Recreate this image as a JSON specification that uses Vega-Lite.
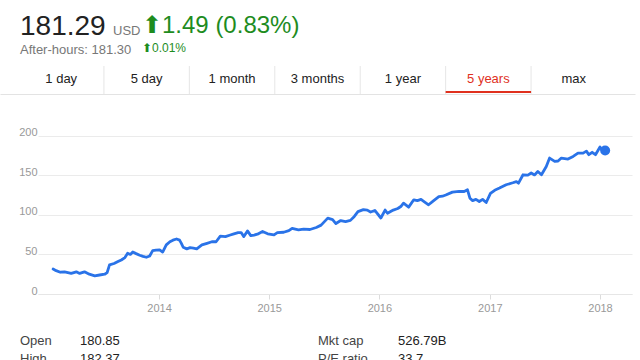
{
  "$schema": "https://vega.github.io/schema/vega-lite/v6.json",
  "padding": {"left": 18, "top": 12, "right": 0, "bottom": 0},
  "background": "white",
  "bounds": "flush",
  "spacing": 10,
  "config": {"font": "Liberation Sans", "view": {"stroke": null}},
  "vconcat": [
    {
      "width": 594,
      "height": 28,
      "title": {"text": "181.29", "subtitle": "After-hours: 181.30", "anchor": "start", "frame": "group", "dx": -18, "dy": 13, "offset": 0, "baseline": "alphabetic",
                "fontSize": 28, "fontWeight": "normal", "color": "#222", "subtitleFontSize": 13, "subtitleColor": "#777", "subtitlePadding": -9},
      "data": {"values": [{"tab": "1 day"}, {"tab": "5 day"}, {"tab": "1 month"}, {"tab": "3 months"}, {"tab": "1 year"}, {"tab": "5 years"}, {"tab": "max"}]},
      "encoding": {
        "x": {"field": "tab", "type": "nominal", "sort": null,
              "scale": {"range": [-38, 597], "paddingInner": 0, "paddingOuter": 0.2165},
              "axis": {"title": null, "labels": false, "ticks": false, "domain": true, "domainColor": "#e3e3e3"}}
      },
      "layer": [
        {
          "mark": {"type": "text", "fontSize": 13, "baseline": "middle", "dy": -1},
          "encoding": {
            "text": {"field": "tab"},
            "color": {"condition": {"test": "datum.tab === '5 years'", "value": "#e0311e"}, "value": "#222"}
          }
        },
        {
          "transform": [{"filter": "datum.tab !== '1 day'"}],
          "mark": {"type": "rule", "color": "#e6e6e6"},
          "encoding": {
            "x": {"field": "tab", "type": "nominal", "sort": null, "bandPosition": 0,
                  "axis": {"title": null, "labels": false, "ticks": false, "domain": true, "domainColor": "#e3e3e3"}}
          }
        },
        {
          "transform": [{"filter": "datum.tab === '5 years'"}],
          "mark": {"type": "rect", "color": "#e0311e"},
          "encoding": {
            "y": {"datum": 1, "type": "quantitative", "scale": {"domain": [0, 28]}, "axis": null},
            "y2": {"datum": 3}
          }
        }
      ]
    },
    {
      "width": 594,
      "height": 190,
      "title": {"text": "\u00a0\u00a0\u2009⬆1.49 (0.83%)", "subtitle": "⬆0.01%", "anchor": "start", "frame": "group", "dx": 104, "dy": -31, "offset": 0, "baseline": "alphabetic",
                "fontSize": 24, "fontWeight": "normal", "color": "#1e8c1e", "subtitleFontSize": 12, "subtitleColor": "#1e8c1e", "subtitlePadding": -5},
      "data": {"values": [
        {"date": "2013-01-15", "value": 31.5},
        {"date": "2013-01-25", "value": 29.5},
        {"date": "2013-02-08", "value": 27.5},
        {"date": "2013-02-22", "value": 28},
        {"date": "2013-03-16", "value": 26},
        {"date": "2013-04-02", "value": 28},
        {"date": "2013-04-13", "value": 26},
        {"date": "2013-04-29", "value": 28},
        {"date": "2013-05-15", "value": 25},
        {"date": "2013-06-02", "value": 23},
        {"date": "2013-06-18", "value": 24},
        {"date": "2013-07-05", "value": 25},
        {"date": "2013-07-13", "value": 27},
        {"date": "2013-07-21", "value": 36.7},
        {"date": "2013-08-05", "value": 38.5},
        {"date": "2013-08-18", "value": 41},
        {"date": "2013-08-29", "value": 43},
        {"date": "2013-09-10", "value": 46},
        {"date": "2013-09-19", "value": 51.5},
        {"date": "2013-09-28", "value": 50},
        {"date": "2013-10-06", "value": 53},
        {"date": "2013-10-17", "value": 51},
        {"date": "2013-10-29", "value": 49},
        {"date": "2013-11-09", "value": 47.5},
        {"date": "2013-11-20", "value": 46.4},
        {"date": "2013-12-01", "value": 48},
        {"date": "2013-12-11", "value": 54.8},
        {"date": "2013-12-22", "value": 55.5},
        {"date": "2014-01-03", "value": 55.7},
        {"date": "2014-01-13", "value": 53},
        {"date": "2014-01-25", "value": 62},
        {"date": "2014-02-06", "value": 66},
        {"date": "2014-02-16", "value": 68},
        {"date": "2014-02-28", "value": 69.5},
        {"date": "2014-03-10", "value": 68},
        {"date": "2014-03-16", "value": 64},
        {"date": "2014-03-22", "value": 59},
        {"date": "2014-04-03", "value": 57},
        {"date": "2014-04-14", "value": 58.5},
        {"date": "2014-04-25", "value": 58},
        {"date": "2014-05-06", "value": 57},
        {"date": "2014-05-23", "value": 62},
        {"date": "2014-06-09", "value": 64},
        {"date": "2014-06-25", "value": 66},
        {"date": "2014-07-09", "value": 66},
        {"date": "2014-07-23", "value": 73},
        {"date": "2014-08-09", "value": 72.5},
        {"date": "2014-08-25", "value": 74.5},
        {"date": "2014-09-06", "value": 76},
        {"date": "2014-09-20", "value": 77.5},
        {"date": "2014-09-30", "value": 77.6},
        {"date": "2014-10-09", "value": 72.5},
        {"date": "2014-10-21", "value": 79.7},
        {"date": "2014-11-01", "value": 73.8},
        {"date": "2014-11-12", "value": 74.5},
        {"date": "2014-11-23", "value": 75.6},
        {"date": "2014-12-10", "value": 79},
        {"date": "2014-12-27", "value": 76},
        {"date": "2015-01-17", "value": 74.7},
        {"date": "2015-01-28", "value": 77.6},
        {"date": "2015-02-18", "value": 78},
        {"date": "2015-03-07", "value": 80},
        {"date": "2015-03-18", "value": 83},
        {"date": "2015-04-08", "value": 81},
        {"date": "2015-04-25", "value": 82},
        {"date": "2015-05-16", "value": 81.5},
        {"date": "2015-06-06", "value": 84},
        {"date": "2015-06-22", "value": 87},
        {"date": "2015-07-14", "value": 95.8},
        {"date": "2015-07-30", "value": 94},
        {"date": "2015-08-10", "value": 89},
        {"date": "2015-08-26", "value": 92.8},
        {"date": "2015-09-11", "value": 91.5},
        {"date": "2015-09-27", "value": 93},
        {"date": "2015-10-10", "value": 98},
        {"date": "2015-10-22", "value": 104},
        {"date": "2015-11-09", "value": 106.5},
        {"date": "2015-11-22", "value": 106},
        {"date": "2015-12-03", "value": 103.5},
        {"date": "2015-12-17", "value": 105.5},
        {"date": "2016-01-06", "value": 96},
        {"date": "2016-01-20", "value": 106},
        {"date": "2016-01-28", "value": 102},
        {"date": "2016-02-16", "value": 106},
        {"date": "2016-03-02", "value": 108},
        {"date": "2016-03-12", "value": 110.5},
        {"date": "2016-03-21", "value": 114.8},
        {"date": "2016-04-07", "value": 109.7},
        {"date": "2016-04-24", "value": 119},
        {"date": "2016-05-06", "value": 118},
        {"date": "2016-05-18", "value": 119.5},
        {"date": "2016-05-28", "value": 116.8},
        {"date": "2016-06-12", "value": 112.7},
        {"date": "2016-06-29", "value": 118},
        {"date": "2016-07-16", "value": 123},
        {"date": "2016-07-28", "value": 123.5},
        {"date": "2016-08-08", "value": 125},
        {"date": "2016-08-30", "value": 128.7},
        {"date": "2016-09-21", "value": 129.5},
        {"date": "2016-10-08", "value": 129.5},
        {"date": "2016-10-19", "value": 131.6},
        {"date": "2016-10-27", "value": 121},
        {"date": "2016-11-05", "value": 118},
        {"date": "2016-11-16", "value": 119.5},
        {"date": "2016-11-27", "value": 116.8},
        {"date": "2016-12-08", "value": 119.5},
        {"date": "2016-12-20", "value": 115.6},
        {"date": "2017-01-03", "value": 127},
        {"date": "2017-01-17", "value": 131},
        {"date": "2017-02-02", "value": 133.8},
        {"date": "2017-02-24", "value": 138},
        {"date": "2017-03-18", "value": 140.5},
        {"date": "2017-03-30", "value": 142},
        {"date": "2017-04-06", "value": 140},
        {"date": "2017-04-21", "value": 150.6},
        {"date": "2017-05-07", "value": 150.2},
        {"date": "2017-05-18", "value": 152.8},
        {"date": "2017-05-29", "value": 150.4},
        {"date": "2017-06-09", "value": 154.8},
        {"date": "2017-06-21", "value": 150.6},
        {"date": "2017-07-07", "value": 161},
        {"date": "2017-07-18", "value": 171.7},
        {"date": "2017-08-04", "value": 167.5},
        {"date": "2017-08-15", "value": 168},
        {"date": "2017-08-26", "value": 171.7},
        {"date": "2017-09-17", "value": 170.5},
        {"date": "2017-10-04", "value": 173.8},
        {"date": "2017-10-20", "value": 178},
        {"date": "2017-11-06", "value": 178},
        {"date": "2017-11-17", "value": 180.5},
        {"date": "2017-11-25", "value": 176},
        {"date": "2017-12-06", "value": 179},
        {"date": "2017-12-17", "value": 176},
        {"date": "2018-01-01", "value": 185.7},
        {"date": "2018-01-09", "value": 181.4},
        {"date": "2018-01-18", "value": 181.29}
      ]},
      "encoding": {
        "x": {"field": "date", "type": "temporal",
              "scale": {"domain": [{"year": 2012, "month": 11, "date": 26}, {"year": 2018, "month": 4, "date": 17}]},
              "axis": {"title": null, "grid": false, "format": "%Y",
                       "values": [{"year": 2014, "month": 1, "date": 1}, {"year": 2015, "month": 1, "date": 1}, {"year": 2016, "month": 1, "date": 1}, {"year": 2017, "month": 1, "date": 1}, {"year": 2018, "month": 1, "date": 1}],
                       "labelColor": "#999", "labelFontSize": 11, "tickColor": "#dcdcdc", "tickSize": 5, "domainColor": "#e6e6e6", "labelPadding": 3}},
        "y": {"field": "value", "type": "quantitative",
              "scale": {"domain": [0, 240], "nice": false},
              "axis": {"title": null, "values": [0, 50, 100, 150, 200], "grid": true, "gridColor": "#ebebeb", "domain": false, "ticks": false,
                       "labelColor": "#999", "labelFontSize": 11, "labelPadding": 1, "labelBaseline": "alphabetic"}}
      },
      "layer": [
        {"mark": {"type": "line", "color": "#2a73e8", "strokeWidth": 2.8, "strokeJoin": "round", "strokeCap": "round"}},
        {"transform": [{"filter": "datum.value === 181.29"}],
         "mark": {"type": "point", "filled": true, "color": "#2a73e8", "opacity": 1, "size": 100}}
      ]
    },
    {
      "width": 594,
      "height": 60,
      "title": {"text": "USD", "anchor": "start", "frame": "group", "dx": 75, "dy": -256, "offset": 0, "baseline": "alphabetic", "fontSize": 13, "fontWeight": "normal", "color": "#777"},
      "data": {"values": [
        {"row": "1", "side": "L", "label": "Open", "val": "180.85"},
        {"row": "1", "side": "R", "label": "Mkt cap", "val": "526.79B"},
        {"row": "2", "side": "L", "label": "High", "val": "182.37"},
        {"row": "2", "side": "R", "label": "P/E ratio", "val": "33.7"}
      ]},
      "encoding": {
        "y": {"field": "row", "type": "nominal", "scale": {"range": [28, 64], "paddingInner": 0, "paddingOuter": 0}, "axis": null}
      },
      "layer": [
        {"mark": {"type": "text", "align": "left", "fontSize": 13, "color": "#444"},
         "encoding": {
           "x": {"field": "side", "type": "nominal", "scale": {"range": [-167, 429], "paddingInner": 0, "paddingOuter": 0}, "axis": null},
           "text": {"field": "label"}}},
        {"mark": {"type": "text", "align": "left", "fontSize": 13, "color": "#222"},
         "encoding": {
           "x": {"field": "side", "type": "nominal", "scale": {"range": [-117, 519], "paddingInner": 0, "paddingOuter": 0}, "axis": null},
           "text": {"field": "val"}}}
      ],
      "resolve": {"scale": {"x": "independent"}}
    }
  ]
}
